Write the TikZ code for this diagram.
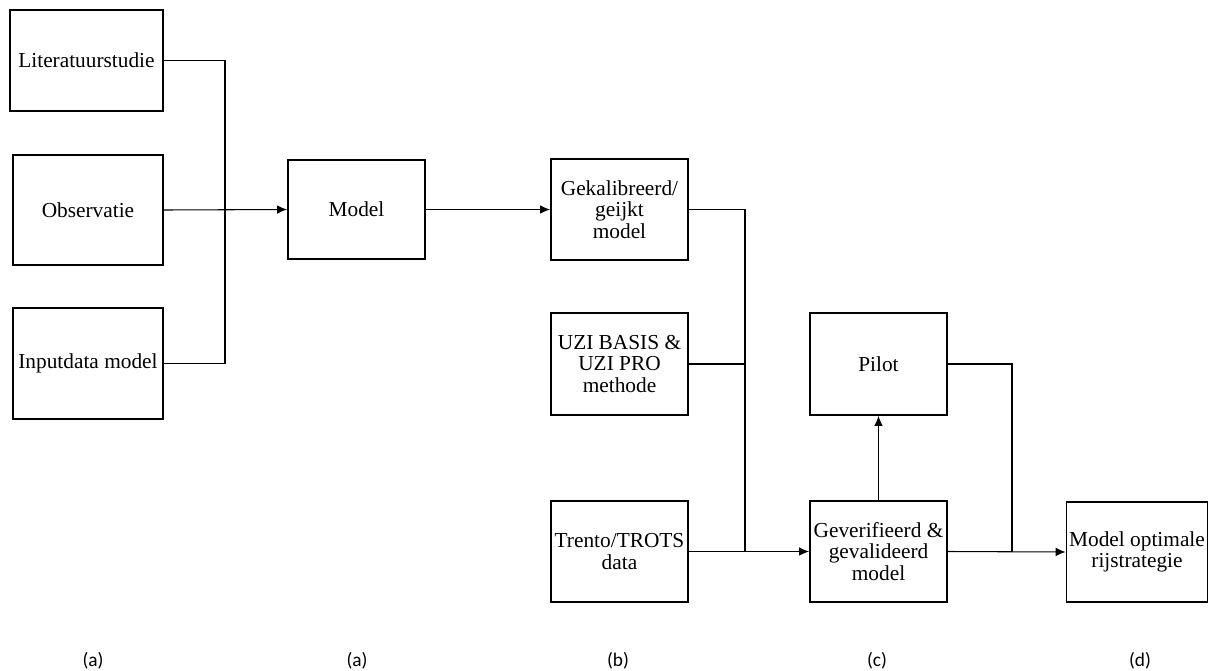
\documentclass[tikz,border=0pt]{standalone}
\usepackage{fontspec}
\setmainfont{Liberation Serif}
\newfontfamily\labelfont{Carlito}
\usetikzlibrary{arrows.meta}
\tikzset{
  box/.style={draw, line width=1.4pt, rectangle, align=center, inner sep=2pt,
    minimum width=102.75pt, minimum height=75.75pt,
    font=\fontsize{16}{16.2}\selectfont},
  link/.style={line width=0.8pt},
  arr/.style={link, -{Latex[length=7.5pt,width=6.5pt]}},
  tag/.style={font=\labelfont\fontsize{14.5}{16}\selectfont}
}
\begin{document}
\begin{tikzpicture}[x=0.75pt,y=-0.75pt]
  \useasboundingbox (0,0) rectangle (1210,671);

  % sources
  \node[box, minimum width=114.75pt, minimum height=75.75pt] (lit) at (86.5,60.5) {Literatuurstudie};
  \node[box, minimum width=112.5pt, minimum height=82.5pt] (obs) at (88,210) {Observatie};
  \node[box, minimum width=112.5pt, minimum height=83.25pt] (inp) at (88,363.5) {Inputdata model};

  % chain of models
  \node[box, minimum height=74.25pt] (model) at (356.5,209.5) {Model};
  \node[box] (gek) at (619.5,209.5) {Gekalibreerd/\\geijkt\\model};
  \node[box, minimum height=76.5pt] (uzi) at (619.5,364) {UZI BASIS \&\\UZI PRO\\methode};
  \node[box] (trento) at (619.5,551.5) {Trento/TROTS\\data};
  \node[box] (gever) at (878.5,551.5) {Geverifieerd \&\\gevalideerd\\model};
  \node[box, minimum height=76.5pt] (pilot) at (878.5,364) {Pilot};
  \node[box, minimum width=103pt, minimum height=75pt] (opt) at (1137,552) {Model optimale\\rijstrategie};

  % junction points
  \coordinate (j1) at (225,210);
  \coordinate (j2) at (745,551.5);
  \coordinate (j3) at (1012,551.5);

  % connectors
  \draw[link] (lit.east) -| (j1);
  \draw[link] (inp.east) -| (j1);
  \draw[arr] (obs.east) -- (model.west);
  \draw[arr] (model.east) -- (gek.west);

  \draw[link] (gek.east) -| (j2);
  \draw[link] (uzi.east) -| (j2);
  \draw[arr] (trento.east) -- (gever.west);

  \draw[arr] (gever.north) -- (pilot.south);
  \draw[link] (pilot.east) -| (j3);
  \draw[arr] (gever.east) -- (opt.west);

  % column labels
  \node[tag] (la) at (93,661) {(a)};
  \node[tag] (lb) at (357,661) {(a)};
  \node[tag] (lc) at (618,661) {(b)};
  \node[tag] (ld) at (877,661) {(c)};
  \node[tag] (le) at (1140,661) {(d)};
\end{tikzpicture}
\end{document}
